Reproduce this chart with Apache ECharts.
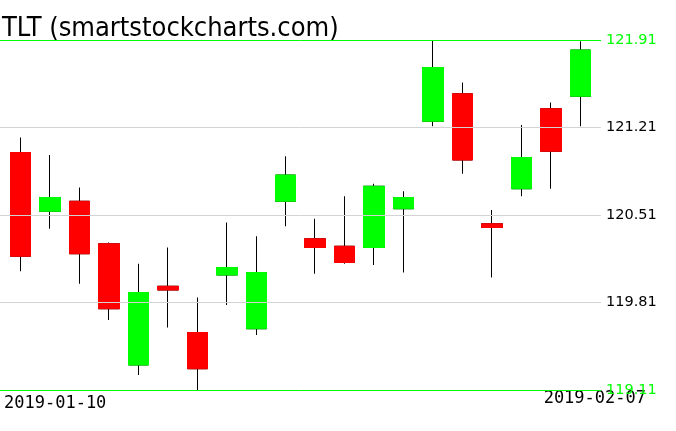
<!DOCTYPE html>
<html>
<head>
<meta charset="utf-8">
<script src="https://cdn.jsdelivr.net/npm/echarts@6/dist/echarts.min.js"></script>
<style>html,body{margin:0;padding:0;background:#fff;}#c{width:676px;height:431px;}</style>
</head>
<body>
<div id="c"></div>
<script>
const titleText = 'TLT (smartstockcharts.com)';
const dates = ['2019-01-10','2019-01-11','2019-01-14','2019-01-15','2019-01-16','2019-01-17','2019-01-18','2019-01-22','2019-01-23','2019-01-24','2019-01-25','2019-01-28','2019-01-29','2019-01-30','2019-01-31','2019-02-01','2019-02-04','2019-02-05','2019-02-06','2019-02-07'];
const openV  = [121.01,120.54,120.62,120.28,119.31,119.94,119.57,120.03,119.60,120.62,120.32,120.26,120.25,120.56,121.26,121.48,120.44,120.72,121.36,121.46];
const closeV = [120.18,120.65,120.20,119.76,119.89,119.91,119.28,120.09,120.05,120.83,120.25,120.13,120.74,120.65,121.69,120.95,120.41,120.97,121.02,121.83];
const lowV   = [120.06,120.40,119.96,119.67,119.23,119.61,119.11,119.79,119.55,120.42,120.04,120.12,120.11,120.05,121.22,120.84,120.01,120.66,120.72,121.22];
const highV  = [121.13,120.99,120.73,120.29,120.12,120.25,119.85,120.45,120.34,120.98,120.48,120.66,120.76,120.70,121.91,121.57,120.55,121.23,121.41,121.90];
const yMin = 119.11;
const yMax = 121.91;
const yStep = 0.70;

const UP = '#00ff00', DOWN = '#ff0000', GRID = '#d3d3d3';

const wickData = dates.map((d, i) => [openV[i], closeV[i], lowV[i], highV[i]]);
const bodyData = dates.map((d, i) => [openV[i], closeV[i], Math.min(openV[i], closeV[i]), Math.max(openV[i], closeV[i])]);

const chart = echarts.init(document.getElementById('c'), null, {renderer: 'canvas'});
chart.setOption({
  animation: false,
  backgroundColor: '#fff',
  title: [
    {text: titleText, left: 2, top: 15, z: 1, padding: 0,
     textStyle: {fontFamily: "'Liberation Sans Narrow', 'DejaVu Sans Condensed', sans-serif", fontSize: 27, fontWeight: 'normal', color: '#000'}},
    {text: dates[0], left: 4, top: 395, z: 1, padding: 0,
     textStyle: {fontFamily: "'DejaVu Sans Mono', monospace", fontSize: 17, fontWeight: 'normal', color: '#000'}},
    {text: dates[dates.length - 1], right: 30, top: 390, z: 1, padding: 0,
     textStyle: {fontFamily: "'DejaVu Sans Mono', monospace", fontSize: 17, fontWeight: 'normal', color: '#000'}}
  ],
  grid: [
    {left: 5.76, right: 80.8, top: 40, bottom: 41},
    {left: 0, right: 75, top: 40, bottom: 41}
  ],
  xAxis: [
    {type: 'category', gridIndex: 0, data: dates, boundaryGap: true, show: false},
    {type: 'value', gridIndex: 1, min: 0, max: 1, show: false}
  ],
  yAxis: [
    {type: 'value', gridIndex: 0, min: yMin, max: yMax, interval: yStep, show: false},
    {type: 'value', gridIndex: 1, min: yMin, max: yMax, interval: yStep, position: 'right', z: 10,
     axisLine: {show: false}, axisTick: {show: false},
     splitLine: {show: true, showMinLine: true, showMaxLine: true,
       lineStyle: {color: [UP, GRID, GRID, GRID, UP], width: 1}},
     axisLabel: {show: true, margin: 5, fontFamily: "'DejaVu Sans', sans-serif", fontSize: 14.5,
       padding: [0, 0, 9, 0], verticalAlign: 'middle',
       showMinLabel: true, showMaxLabel: true,
       formatter: v => Number(v).toFixed(2),
       color: (v) => (Math.abs(v - yMin) < 1e-6 || Math.abs(v - yMax) < 1e-6) ? UP : '#000'}}
  ],
  series: [
    {type: 'candlestick', xAxisIndex: 0, yAxisIndex: 0, barWidth: 21, data: wickData, z: 2,
     itemStyle: {color: '#000', color0: '#000', borderColor: '#000', borderColor0: '#000', borderWidth: 1}},
    {type: 'candlestick', xAxisIndex: 0, yAxisIndex: 0, barWidth: 21, data: bodyData, z: 3,
     itemStyle: {color: UP, color0: DOWN, borderColor: UP, borderColor0: DOWN, borderWidth: 1}}
  ]
});
</script>
</body>
</html>
